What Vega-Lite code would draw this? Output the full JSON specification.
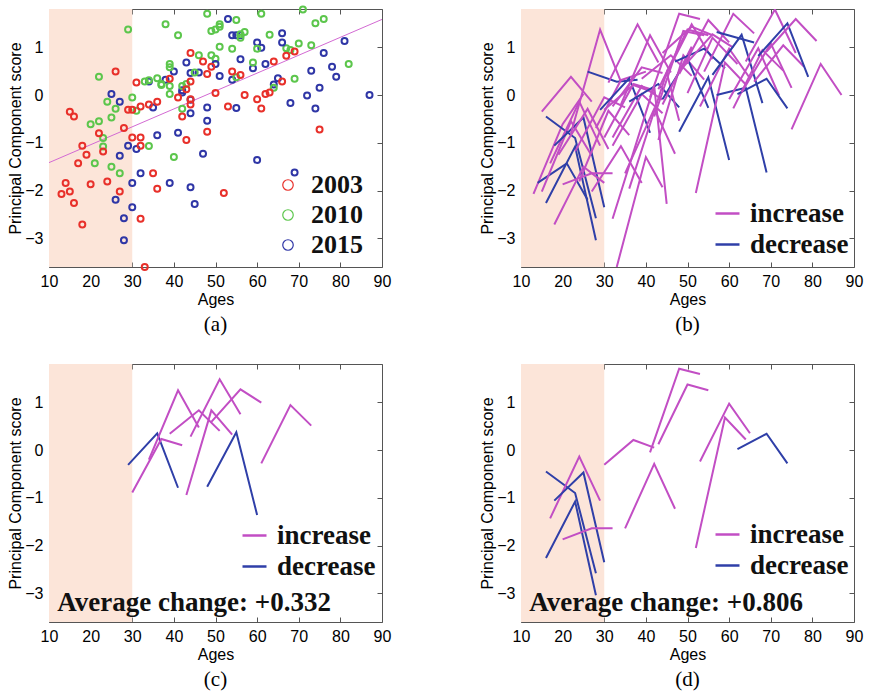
{
"$schema":"https://vega.github.io/schema/vega-lite/v6.json",
"background":"white",
"padding":{"left":7,"top":1,"right":5,"bottom":5},
"datasets":{"people":[
{"id":1,"year":"2003","age":13,"score":-2.07,"trend":"increase","grp":""},{"id":1,"year":"2010","age":20,"score":-0.61,"trend":"increase","grp":""},{"id":1,"year":"2015","age":25,"score":0.02,"trend":"increase","grp":""},
{"id":2,"year":"2003","age":14,"score":-1.84,"trend":"decrease","grp":""},{"id":2,"year":"2010","age":21,"score":-1.43,"trend":"decrease","grp":""},{"id":2,"year":"2015","age":26,"score":-2.19,"trend":"decrease","grp":""},
{"id":3,"year":"2003","age":15,"score":-0.35,"trend":"increase","grp":""},{"id":3,"year":"2010","age":22,"score":0.38,"trend":"increase","grp":""},{"id":3,"year":"2015","age":27,"score":-0.14,"trend":"increase","grp":""},
{"id":4,"year":"2003","age":15,"score":-2.02,"trend":"increase","grp":""},{"id":4,"year":"2010","age":22,"score":-0.55,"trend":"increase","grp":""},{"id":4,"year":"2015","age":27,"score":-1.27,"trend":"increase","grp":""},
{"id":5,"year":"2003","age":16,"score":-0.45,"trend":"decrease","grp":"d"},{"id":5,"year":"2010","age":23,"score":-0.90,"trend":"decrease","grp":"d"},{"id":5,"year":"2015","age":28,"score":-2.58,"trend":"decrease","grp":"d"},
{"id":6,"year":"2003","age":16,"score":-2.26,"trend":"decrease","grp":"d"},{"id":6,"year":"2010","age":23,"score":-1.08,"trend":"decrease","grp":"d"},{"id":6,"year":"2015","age":28,"score":-3.04,"trend":"decrease","grp":"d"},
{"id":7,"year":"2003","age":17,"score":-1.43,"trend":"increase","grp":"d"},{"id":7,"year":"2010","age":24,"score":-0.14,"trend":"increase","grp":"d"},{"id":7,"year":"2015","age":29,"score":-1.06,"trend":"increase","grp":"d"},
{"id":8,"year":"2003","age":18,"score":-1.06,"trend":"decrease","grp":"d"},{"id":8,"year":"2010","age":25,"score":-0.47,"trend":"decrease","grp":"d"},{"id":8,"year":"2015","age":30,"score":-2.35,"trend":"decrease","grp":"d"},
{"id":9,"year":"2003","age":18,"score":-2.71,"trend":"increase","grp":""},{"id":9,"year":"2010","age":25,"score":-1.50,"trend":"increase","grp":""},{"id":9,"year":"2015","age":30,"score":-1.84,"trend":"increase","grp":""},
{"id":10,"year":"2003","age":19,"score":-1.25,"trend":"increase","grp":""},{"id":10,"year":"2010","age":26,"score":-0.29,"trend":"increase","grp":""},{"id":10,"year":"2015","age":31,"score":-1.13,"trend":"increase","grp":""},
{"id":11,"year":"2003","age":20,"score":-1.87,"trend":"increase","grp":"d"},{"id":11,"year":"2010","age":27,"score":-1.64,"trend":"increase","grp":"d"},{"id":11,"year":"2015","age":32,"score":-1.64,"trend":"increase","grp":"d"},
{"id":12,"year":"2003","age":22,"score":-0.80,"trend":"increase","grp":""},{"id":12,"year":"2010","age":29,"score":1.37,"trend":"increase","grp":""},{"id":12,"year":"2015","age":34,"score":0.28,"trend":"increase","grp":""},
{"id":13,"year":"2003","age":23,"score":-1.18,"trend":"increase","grp":""},{"id":13,"year":"2010","age":30,"score":-0.05,"trend":"increase","grp":""},{"id":13,"year":"2015","age":35,"score":-0.26,"trend":"increase","grp":""},
{"id":14,"year":"2003","age":24,"score":-1.81,"trend":"increase","grp":""},{"id":14,"year":"2010","age":31,"score":-0.33,"trend":"increase","grp":""},{"id":14,"year":"2015","age":36,"score":-0.84,"trend":"increase","grp":""},
{"id":15,"year":"2003","age":26,"score":0.49,"trend":"decrease","grp":""},{"id":15,"year":"2010","age":33,"score":0.28,"trend":"decrease","grp":""},{"id":15,"year":"2015","age":38,"score":0.32,"trend":"decrease","grp":""},
{"id":16,"year":"2003","age":27,"score":-2.02,"trend":"increase","grp":""},{"id":16,"year":"2010","age":34,"score":-1.07,"trend":"increase","grp":""},{"id":16,"year":"2015","age":39,"score":-1.84,"trend":"increase","grp":""},
{"id":17,"year":"2003","age":28,"score":-0.69,"trend":"increase","grp":""},{"id":17,"year":"2010","age":34,"score":0.31,"trend":"increase","grp":""},{"id":17,"year":"2015","age":40,"score":0.49,"trend":"increase","grp":""},
{"id":18,"year":"2003","age":29,"score":-0.31,"trend":"decrease","grp":"c"},{"id":18,"year":"2010","age":36,"score":0.35,"trend":"decrease","grp":"c"},{"id":18,"year":"2015","age":41,"score":-0.79,"trend":"decrease","grp":"c"},
{"id":19,"year":"2003","age":30,"score":-0.89,"trend":"increase","grp":"c"},{"id":19,"year":"2010","age":37,"score":0.23,"trend":"increase","grp":"c"},{"id":19,"year":"2015","age":42,"score":0.10,"trend":"increase","grp":"c"},
{"id":20,"year":"2003","age":30,"score":-0.31,"trend":"increase","grp":"d"},{"id":20,"year":"2010","age":37,"score":0.21,"trend":"increase","grp":"d"},{"id":20,"year":"2015","age":42,"score":0.05,"trend":"increase","grp":"d"},
{"id":21,"year":"2003","age":31,"score":0.26,"trend":"increase","grp":""},{"id":21,"year":"2010","age":38,"score":1.48,"trend":"increase","grp":""},{"id":21,"year":"2015","age":43,"score":0.68,"trend":"increase","grp":""},
{"id":22,"year":"2003","age":32,"score":-0.24,"trend":"increase","grp":""},{"id":22,"year":"2010","age":39,"score":0.58,"trend":"increase","grp":""},{"id":22,"year":"2015","age":44,"score":0.46,"trend":"increase","grp":""},
{"id":23,"year":"2003","age":32,"score":-0.89,"trend":"increase","grp":""},{"id":23,"year":"2010","age":39,"score":0.19,"trend":"increase","grp":""},{"id":23,"year":"2015","age":44,"score":-0.10,"trend":"increase","grp":""},
{"id":24,"year":"2003","age":32,"score":-1.06,"trend":"increase","grp":""},{"id":24,"year":"2010","age":39,"score":0.02,"trend":"increase","grp":""},{"id":24,"year":"2015","age":44,"score":-0.38,"trend":"increase","grp":""},
{"id":25,"year":"2003","age":33,"score":-3.6,"trend":"increase","grp":""},{"id":25,"year":"2010","age":40,"score":-1.30,"trend":"increase","grp":""},{"id":25,"year":"2015","age":44,"score":-1.93,"trend":"increase","grp":""},
{"id":26,"year":"2003","age":32,"score":-2.59,"trend":"increase","grp":""},{"id":26,"year":"2010","age":42,"score":0.19,"trend":"increase","grp":""},{"id":26,"year":"2015","age":45,"score":-2.28,"trend":"increase","grp":""},
{"id":27,"year":"2003","age":34,"score":-0.20,"trend":"increase","grp":"c"},{"id":27,"year":"2010","age":41,"score":1.25,"trend":"increase","grp":"c"},{"id":27,"year":"2015","age":46,"score":0.47,"trend":"increase","grp":"c"},
{"id":28,"year":"2003","age":35,"score":-1.64,"trend":"increase","grp":"d"},{"id":28,"year":"2010","age":42,"score":-0.29,"trend":"increase","grp":"d"},{"id":28,"year":"2015","age":47,"score":-1.23,"trend":"increase","grp":"d"},
{"id":29,"year":"2003","age":36,"score":-0.14,"trend":"decrease","grp":""},{"id":29,"year":"2010","age":43,"score":0.23,"trend":"decrease","grp":""},{"id":29,"year":"2015","age":48,"score":-0.26,"trend":"decrease","grp":""},
{"id":30,"year":"2003","age":36,"score":-1.96,"trend":"increase","grp":""},{"id":30,"year":"2010","age":45,"score":0.47,"trend":"increase","grp":""},{"id":30,"year":"2015","age":48,"score":-0.54,"trend":"increase","grp":""},
{"id":31,"year":"2003","age":39,"score":0.34,"trend":"increase","grp":"c"},{"id":31,"year":"2010","age":46,"score":0.83,"trend":"increase","grp":"c"},{"id":31,"year":"2015","age":51,"score":0.40,"trend":"increase","grp":"c"},
{"id":32,"year":"2003","age":41,"score":-0.05,"trend":"increase","grp":"d"},{"id":32,"year":"2010","age":48,"score":1.70,"trend":"increase","grp":"d"},{"id":32,"year":"2015","age":53,"score":1.59,"trend":"increase","grp":"d"},
{"id":33,"year":"2003","age":42,"score":-0.45,"trend":"increase","grp":""},{"id":33,"year":"2010","age":49,"score":1.34,"trend":"increase","grp":""},{"id":33,"year":"2015","age":54,"score":1.25,"trend":"increase","grp":""},
{"id":34,"year":"2003","age":43,"score":-0.94,"trend":"increase","grp":"c"},{"id":34,"year":"2010","age":49,"score":0.83,"trend":"increase","grp":"c"},{"id":34,"year":"2015","age":54,"score":0.32,"trend":"increase","grp":"c"},
{"id":35,"year":"2003","age":43,"score":0.12,"trend":"increase","grp":"d"},{"id":35,"year":"2010","age":50,"score":1.37,"trend":"increase","grp":"d"},{"id":35,"year":"2015","age":55,"score":1.25,"trend":"increase","grp":"d"},
{"id":36,"year":"2003","age":44,"score":-0.09,"trend":"decrease","grp":""},{"id":36,"year":"2010","age":50,"score":0.76,"trend":"decrease","grp":""},{"id":36,"year":"2015","age":55,"score":-0.27,"trend":"decrease","grp":""},
{"id":37,"year":"2003","age":44,"score":0.88,"trend":"increase","grp":""},{"id":37,"year":"2010","age":51,"score":1.43,"trend":"increase","grp":""},{"id":37,"year":"2015","age":56,"score":1.25,"trend":"increase","grp":""},
{"id":38,"year":"2003","age":44,"score":-0.20,"trend":"increase","grp":""},{"id":38,"year":"2010","age":51,"score":1.01,"trend":"increase","grp":""},{"id":38,"year":"2015","age":50,"score":0.65,"trend":"increase","grp":""},
{"id":39,"year":"2003","age":44,"score":0.28,"trend":"increase","grp":"c"},{"id":39,"year":"2010","age":51,"score":1.48,"trend":"increase","grp":"c"},{"id":39,"year":"2015","age":56,"score":0.75,"trend":"increase","grp":"c"},
{"id":40,"year":"2003","age":47,"score":0.70,"trend":"decrease","grp":""},{"id":40,"year":"2010","age":54,"score":0.97,"trend":"decrease","grp":""},{"id":40,"year":"2015","age":59,"score":0.56,"trend":"decrease","grp":""},
{"id":41,"year":"2003","age":48,"score":-0.77,"trend":"decrease","grp":"c"},{"id":41,"year":"2010","age":55,"score":0.37,"trend":"decrease","grp":"c"},{"id":41,"year":"2015","age":60,"score":-1.36,"trend":"decrease","grp":"c"},
{"id":42,"year":"2003","age":48,"score":0.44,"trend":"increase","grp":""},{"id":42,"year":"2010","age":55,"score":1.57,"trend":"increase","grp":""},{"id":42,"year":"2015","age":60,"score":1.10,"trend":"increase","grp":""},
{"id":43,"year":"2003","age":49,"score":0.59,"trend":"increase","grp":"c"},{"id":43,"year":"2010","age":56,"score":1.27,"trend":"increase","grp":"c"},{"id":43,"year":"2015","age":61,"score":0.99,"trend":"increase","grp":"c"},
{"id":44,"year":"2003","age":50,"score":0.04,"trend":"increase","grp":""},{"id":44,"year":"2010","age":56,"score":1.20,"trend":"increase","grp":""},{"id":44,"year":"2015","age":62,"score":0.65,"trend":"increase","grp":""},
{"id":45,"year":"2003","age":52,"score":-2.05,"trend":"increase","grp":"d"},{"id":45,"year":"2010","age":59,"score":0.68,"trend":"increase","grp":"d"},{"id":45,"year":"2015","age":64,"score":0.22,"trend":"increase","grp":"d"},
{"id":46,"year":"2003","age":53,"score":-0.24,"trend":"increase","grp":"d"},{"id":46,"year":"2010","age":60,"score":0.97,"trend":"increase","grp":"d"},{"id":46,"year":"2015","age":65,"score":0.35,"trend":"increase","grp":"d"},
{"id":47,"year":"2003","age":54,"score":0.49,"trend":"increase","grp":""},{"id":47,"year":"2010","age":61,"score":1.70,"trend":"increase","grp":""},{"id":47,"year":"2015","age":66,"score":1.29,"trend":"increase","grp":""},
{"id":48,"year":"2003","age":56,"score":0.42,"trend":"decrease","grp":""},{"id":48,"year":"2010","age":63,"score":1.26,"trend":"decrease","grp":""},{"id":48,"year":"2015","age":68,"score":-0.17,"trend":"decrease","grp":""},
{"id":49,"year":"2003","age":57,"score":0.00,"trend":"decrease","grp":""},{"id":49,"year":"2010","age":64,"score":0.15,"trend":"decrease","grp":""},{"id":49,"year":"2015","age":69,"score":-1.62,"trend":"decrease","grp":""},
{"id":50,"year":"2003","age":60,"score":-0.09,"trend":"increase","grp":""},{"id":50,"year":"2010","age":67,"score":0.98,"trend":"increase","grp":""},{"id":50,"year":"2015","age":72,"score":-0.01,"trend":"increase","grp":""},
{"id":51,"year":"2003","age":61,"score":-0.28,"trend":"increase","grp":"c"},{"id":51,"year":"2010","age":68,"score":0.94,"trend":"increase","grp":"c"},{"id":51,"year":"2015","age":73,"score":0.51,"trend":"increase","grp":"c"},
{"id":52,"year":"2003","age":62,"score":0.02,"trend":"decrease","grp":"d"},{"id":52,"year":"2010","age":69,"score":0.34,"trend":"decrease","grp":"d"},{"id":52,"year":"2015","age":74,"score":-0.28,"trend":"decrease","grp":"d"},
{"id":53,"year":"2003","age":63,"score":0.05,"trend":"increase","grp":""},{"id":53,"year":"2010","age":70,"score":1.08,"trend":"increase","grp":""},{"id":53,"year":"2015","age":75,"score":0.15,"trend":"increase","grp":""},
{"id":54,"year":"2003","age":64,"score":0.70,"trend":"increase","grp":""},{"id":54,"year":"2010","age":71,"score":1.79,"trend":"increase","grp":""},{"id":54,"year":"2015","age":76,"score":0.88,"trend":"increase","grp":""},
{"id":55,"year":"2003","age":66,"score":0.28,"trend":"increase","grp":""},{"id":55,"year":"2010","age":73,"score":1.04,"trend":"increase","grp":""},{"id":55,"year":"2015","age":78,"score":0.59,"trend":"increase","grp":""},
{"id":56,"year":"2003","age":67,"score":0.82,"trend":"decrease","grp":""},{"id":56,"year":"2010","age":74,"score":1.50,"trend":"decrease","grp":""},{"id":56,"year":"2015","age":79,"score":0.38,"trend":"decrease","grp":""},
{"id":57,"year":"2003","age":69,"score":0.91,"trend":"increase","grp":""},{"id":57,"year":"2010","age":76,"score":1.59,"trend":"increase","grp":""},{"id":57,"year":"2015","age":81,"score":1.13,"trend":"increase","grp":""},
{"id":58,"year":"2003","age":75,"score":-0.72,"trend":"increase","grp":""},{"id":58,"year":"2010","age":82,"score":0.65,"trend":"increase","grp":""},{"id":58,"year":"2015","age":87,"score":0.00,"trend":"increase","grp":""},
{"id":59,"year":"2010","age":57,"score":1.32,"trend":"decrease","grp":""},{"id":59,"year":"2015","age":66,"score":1.10,"trend":"decrease","grp":""},
{"id":60,"year":"2010","age":39,"score":0.65,"trend":"increase","grp":""}
]},
"config":{
 "view":{"stroke":"#555","strokeWidth":1},
 "axis":{"domain":false,"grid":false,"labelFlush":false,"tickColor":"#555","tickSize":-5,"labelPadding":11,"labelFont":"Liberation Sans","labelFontSize":16,"labelColor":"#000","titleFont":"Liberation Sans","titleFontSize":16,"titleFontWeight":"normal","titleColor":"#000"},
 "legend":{"title":null,"labelFont":"Liberation Serif","labelFontWeight":"bold","labelColor":"#111","padding":0,"orient":"none"},
 "title":{"font":"Liberation Serif","fontSize":21,"fontWeight":"normal","color":"#000","orient":"bottom","offset":7}
},
"spacing":27,
"resolve":{"scale":{"color":"independent"},"legend":{"color":"independent"}},
"vconcat":[
{"spacing":87,"resolve":{"scale":{"color":"independent"},"legend":{"color":"independent"}},"hconcat":[
 {"width":333,"height":258,"title":{"text":"(a)"},"resolve":{"axis":{"x":"independent","y":"independent"}},
  "layer":[
   {"data":{"values":[{}]},"mark":{"type":"rect","color":"#fce5d9"},
    "encoding":{"x":{"datum":10,"type":"quantitative","scale":{"domain":[10,90],"nice":false,"zero":false},"axis":{"orient":"top","values":[10,20,30,40,50,60,70,80,90],"labels":false,"title":null,"minExtent":0}},"x2":{"datum":30},
     "y":{"datum":-3.6,"type":"quantitative","scale":{"domain":[-3.6,1.8],"nice":false,"zero":false},"axis":{"orient":"right","values":[-3,-2,-1,0,1],"labels":false,"title":null}},"y2":{"datum":1.8}}},
   {"data":{"name":"people"},"transform":[{"regression":"score","on":"age","extent":[10,90]}],"mark":{"type":"line","color":"#d36ad3","strokeWidth":1},
    "encoding":{"x":{"field":"age","type":"quantitative","axis":null},"y":{"field":"score","type":"quantitative","axis":null}}},
   {"data":{"name":"people"},"mark":{"type":"point","shape":"circle","filled":false,"size":36,"strokeWidth":2,"opacity":1},
    "encoding":{"x":{"field":"age","type":"quantitative","axis":{"orient":"bottom","values":[10,20,30,40,50,60,70,80,90],"title":"Ages","titlePadding":2}},
     "y":{"field":"score","type":"quantitative","axis":{"orient":"left","values":[-3,-2,-1,0,1],"title":"Principal Component score","titlePadding":1}},
     "color":{"field":"year","type":"nominal","scale":{"domain":["2003","2010","2015"],"range":["#e8302a","#5cc64c","#2f36a6"]},"legend":{"legendX":226,"legendY":163,"labelFontSize":26,"symbolType":"circle","symbolSize":110,"symbolStrokeWidth":1.2,"labelOffset":10,"rowPadding":4}}}}
  ]},
 {"width":333,"height":258,"title":{"text":"(b)"},"resolve":{"axis":{"x":"independent","y":"independent"}},
  "layer":[
   {"data":{"values":[{}]},"mark":{"type":"rect","color":"#fce5d9"},
    "encoding":{"x":{"datum":10,"type":"quantitative","scale":{"domain":[10,90],"nice":false,"zero":false},"axis":{"orient":"top","values":[10,20,30,40,50,60,70,80,90],"labels":false,"title":null,"minExtent":0}},"x2":{"datum":30},
     "y":{"datum":-3.6,"type":"quantitative","scale":{"domain":[-3.6,1.8],"nice":false,"zero":false},"axis":{"orient":"right","values":[-3,-2,-1,0,1],"labels":false,"title":null}},"y2":{"datum":1.8}}},
   {"data":{"name":"people"},"mark":{"type":"line","strokeWidth":2,"clip":true},
    "encoding":{"x":{"field":"age","type":"quantitative","axis":{"orient":"bottom","values":[10,20,30,40,50,60,70,80,90],"title":"Ages","titlePadding":2}},
     "y":{"field":"score","type":"quantitative","axis":{"orient":"left","values":[-3,-2,-1,0,1],"title":"Principal Component score","titlePadding":1}},
     "detail":{"field":"id"},"order":{"field":"year"},
     "color":{"field":"trend","type":"nominal","scale":{"domain":["increase","decrease"],"range":["#c24ec4","#2f3fa8"]},"legend":{"legendX":193,"legendY":191,"labelFontSize":27,"symbolType":"stroke","symbolSize":576,"symbolStrokeWidth":2.5,"labelOffset":9,"rowPadding":3}}}}
  ]}
]},
{"spacing":87,"resolve":{"scale":{"color":"independent"},"legend":{"color":"independent"}},"hconcat":[
 {"width":333,"height":258,"title":{"text":"(c)"},"resolve":{"axis":{"x":"independent","y":"independent"}},
  "layer":[
   {"data":{"values":[{}]},"mark":{"type":"rect","color":"#fce5d9"},
    "encoding":{"x":{"datum":10,"type":"quantitative","scale":{"domain":[10,90],"nice":false,"zero":false},"axis":{"orient":"top","values":[10,20,30,40,50,60,70,80,90],"labels":false,"title":null,"minExtent":0}},"x2":{"datum":30},
     "y":{"datum":-3.6,"type":"quantitative","scale":{"domain":[-3.6,1.8],"nice":false,"zero":false},"axis":{"orient":"right","values":[-3,-2,-1,0,1],"labels":false,"title":null}},"y2":{"datum":1.8}}},
   {"data":{"name":"people"},"transform":[{"filter":"datum.grp == 'c'"}],"mark":{"type":"line","strokeWidth":2,"clip":true},
    "encoding":{"x":{"field":"age","type":"quantitative","axis":{"orient":"bottom","values":[10,20,30,40,50,60,70,80,90],"title":"Ages","titlePadding":2}},
     "y":{"field":"score","type":"quantitative","axis":{"orient":"left","values":[-3,-2,-1,0,1],"title":"Principal Component score","titlePadding":1}},
     "detail":{"field":"id"},"order":{"field":"year"},
     "color":{"field":"trend","type":"nominal","scale":{"domain":["increase","decrease"],"range":["#c24ec4","#2f3fa8"]},"legend":{"legendX":192,"legendY":158,"labelFontSize":27,"symbolType":"stroke","symbolSize":576,"symbolStrokeWidth":2.5,"labelOffset":9,"rowPadding":3}}}},
   {"data":{"values":[{}]},"mark":{"type":"text","text":"Average change: +0.332","font":"Liberation Serif","fontSize":27,"fontWeight":"bold","align":"left","baseline":"alphabetic","color":"#111"},
    "encoding":{"x":{"datum":12,"type":"quantitative","axis":null},"y":{"datum":-3.37,"type":"quantitative","axis":null}}}
  ]},
 {"width":333,"height":258,"title":{"text":"(d)"},"resolve":{"axis":{"x":"independent","y":"independent"}},
  "layer":[
   {"data":{"values":[{}]},"mark":{"type":"rect","color":"#fce5d9"},
    "encoding":{"x":{"datum":10,"type":"quantitative","scale":{"domain":[10,90],"nice":false,"zero":false},"axis":{"orient":"top","values":[10,20,30,40,50,60,70,80,90],"labels":false,"title":null,"minExtent":0}},"x2":{"datum":30},
     "y":{"datum":-3.6,"type":"quantitative","scale":{"domain":[-3.6,1.8],"nice":false,"zero":false},"axis":{"orient":"right","values":[-3,-2,-1,0,1],"labels":false,"title":null}},"y2":{"datum":1.8}}},
   {"data":{"name":"people"},"transform":[{"filter":"datum.grp == 'd'"}],"mark":{"type":"line","strokeWidth":2,"clip":true},
    "encoding":{"x":{"field":"age","type":"quantitative","axis":{"orient":"bottom","values":[10,20,30,40,50,60,70,80,90],"title":"Ages","titlePadding":2}},
     "y":{"field":"score","type":"quantitative","axis":{"orient":"left","values":[-3,-2,-1,0,1],"title":"Principal Component score","titlePadding":1}},
     "detail":{"field":"id"},"order":{"field":"year"},
     "color":{"field":"trend","type":"nominal","scale":{"domain":["increase","decrease"],"range":["#c24ec4","#2f3fa8"]},"legend":{"legendX":193,"legendY":157,"labelFontSize":27,"symbolType":"stroke","symbolSize":576,"symbolStrokeWidth":2.5,"labelOffset":9,"rowPadding":3}}}},
   {"data":{"values":[{}]},"mark":{"type":"text","text":"Average change: +0.806","font":"Liberation Serif","fontSize":27,"fontWeight":"bold","align":"left","baseline":"alphabetic","color":"#111"},
    "encoding":{"x":{"datum":12,"type":"quantitative","axis":null},"y":{"datum":-3.37,"type":"quantitative","axis":null}}}
  ]}
]}
]
}
